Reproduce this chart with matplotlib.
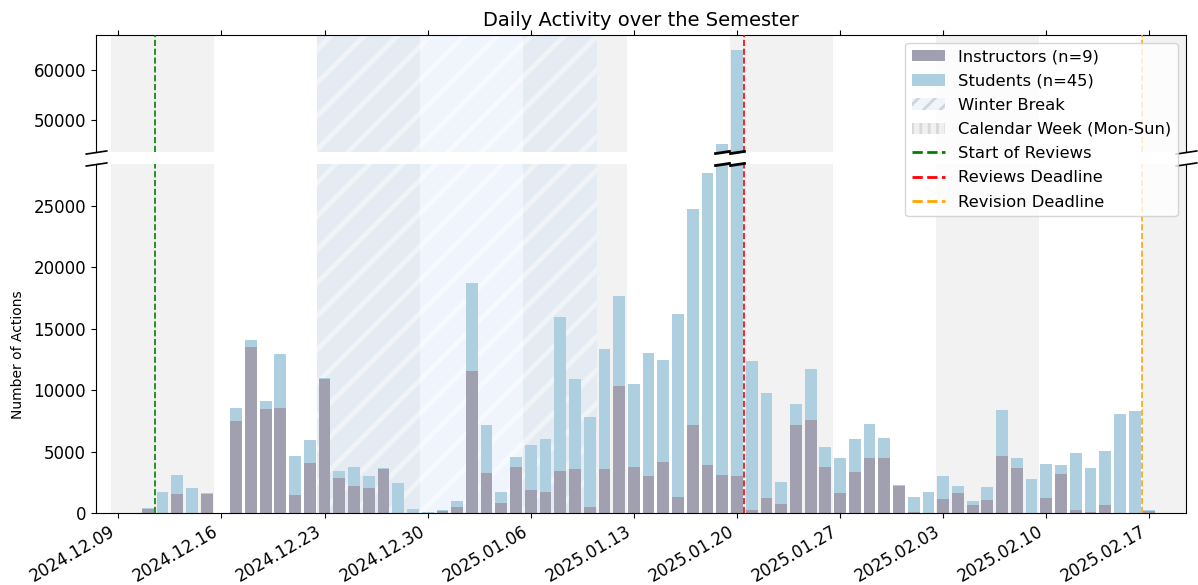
import numpy as np
import pandas as pd
import matplotlib
matplotlib.use("Agg")
import matplotlib.pyplot as plt
import matplotlib.dates as mdates
from matplotlib.patches import Patch
from matplotlib.lines import Line2D

# daily counts, 2024-12-09 .. 2025-02-17
dates = pd.date_range("2024-12-09", "2025-02-17", freq="D")

instructors = [0, 0, 330, 0, 1550, 0, 1550, 0, 7490, 13520, 8470, 8550, 1470, 4070,
               10910, 2850, 2200, 2040, 3580, 0, 0, 0, 160,
               490, 11560, 3260, 810, 3750, 1870, 1710, 3420, 3580, 490, 3580, 10340,
               3750, 3010, 4150, 1300, 7170, 3910, 3090, 3010, 240, 1220, 730, 7170,
               7570, 3750, 1630, 3340, 4480, 4480, 2200,
               80, 0, 1140, 1630, 650, 1060, 4640, 3660, 0, 1220, 3180, 240, 80, 650,
               0, 0, 160]

students = [0, 0, 70, 1710, 1545, 2040, 80, 0, 1060, 570, 650, 4400, 3170, 1880,
            80, 570, 1550, 970, 80, 2440, 330, 80, 80,
            490, 7170, 3910, 900, 810, 3670, 4320, 12540, 7330, 7330, 9780, 7330,
            6750, 10020, 8310, 14900, 17590, 23780, 42050, 60930, 12140, 8550, 1790,
            1710, 4160, 1630, 2850, 2690, 2770, 1630, 80,
            1220, 1710, 1870, 570, 330, 1060, 3750, 820, 2770, 2770, 730, 4650, 3580,
            4400, 8060, 8310, 80]

n_instructors = 9
n_students = 45

start_reviews = pd.Timestamp("2024-12-11 12:00")
reviews_deadline = pd.Timestamp("2025-01-20 12:00")
revision_deadline = pd.Timestamp("2025-02-16 12:00")
break_start = pd.Timestamp("2024-12-23")
break_end = pd.Timestamp("2025-01-10")

c_ins = "#a0a0b0"
c_stu = "#aecfdf"

plt.rcParams["hatch.linewidth"] = 3.5

fig = plt.figure(figsize=(11.98, 5.85), dpi=100)
ax1 = fig.add_axes([0.0801, 0.7402, 0.9098, 0.2005])
ax2 = fig.add_axes([0.0801, 0.1231, 0.9098, 0.5974])

x = mdates.date2num(dates)
tot = np.array(instructors) + np.array(students)
half = 0.5

mondays = pd.date_range("2024-12-09", "2025-02-17", freq="W-MON")

for ax in (ax1, ax2):
    # calendar weeks, every other one shaded
    for k, m in enumerate(mondays):
        if k % 2 == 0:
            m0 = mdates.date2num(m)
            ax.axvspan(m0 - half, m0 + 7 - half, color="gray", alpha=0.1, lw=0, zorder=0)
    # winter break
    b0 = mdates.date2num(break_start) - half
    b1 = mdates.date2num(break_end) + half
    ax.axvspan(b0, b1, facecolor=(0.71, 0.82, 0.96), alpha=0.2, lw=0, zorder=0.5)
    ax.axvspan(b0, b1, facecolor="none", edgecolor="white", hatch="/",
               alpha=0.45, lw=0, zorder=0.6)
    ax.bar(x, instructors, width=0.8, color=c_ins, zorder=2)
    ax.bar(x, students, width=0.8, bottom=instructors, color=c_stu, zorder=2)
    ax.axvline(start_reviews, color="green", ls="--", lw=1.2, zorder=3)
    ax.axvline(reviews_deadline, color="red", ls="--", lw=1.2, zorder=3)
    ax.axvline(revision_deadline, color="orange", ls="--", lw=1.2, zorder=3)
    ax.set_xlim(mdates.date2num(pd.Timestamp("2024-12-07 11:30")),
                mdates.date2num(pd.Timestamp("2025-02-19 11:30")))
    ax.xaxis.set_major_locator(mdates.WeekdayLocator(byweekday=mdates.MO))
    ax.xaxis.set_major_formatter(mdates.DateFormatter("%Y.%m.%d"))
    ax.tick_params(labelsize=12)

ax1.set_ylim(43540, 67000)
ax2.set_ylim(0, 28460)
ax1.set_yticks([50000, 60000])
ax2.set_yticks([0, 5000, 10000, 15000, 20000, 25000])

ax1.spines["bottom"].set_visible(False)
ax2.spines["top"].set_visible(False)
ax1.xaxis.tick_top()
ax1.tick_params(labeltop=False)
ax2.xaxis.tick_bottom()
plt.setp(ax2.get_xticklabels(), rotation=30, ha="right")

# break marks on the axis
d = 0.15
kw = dict(marker=[(-1, -d), (1, d)], markersize=16, linestyle="none",
          color="k", mec="k", mew=1.2, clip_on=False)
ax1.plot([0, 1], [0, 0], transform=ax1.transAxes, **kw)
ax2.plot([0, 1], [1, 1], transform=ax2.transAxes, **kw)

# break marks on bars that go past the lower panel
lim2 = ax2.get_ylim()[1]
big = x[tot > lim2]
kwb = dict(marker=[(-1, -d), (1, d)], markersize=12, linestyle="none",
           color="k", mec="k", mew=2, clip_on=False, zorder=5)
ax1.plot(big, np.zeros(len(big)), transform=ax1.get_xaxis_transform(), **kwb)
ax2.plot(big, np.ones(len(big)), transform=ax2.get_xaxis_transform(), **kwb)

ax1.set_title("Daily Activity over the Semester", fontsize=14)
fig.text(0.015, 0.393, "Number of Actions", rotation=90, va="center", ha="center", fontsize=10)

plt.rcParams["hatch.linewidth"] = 2.0
handles = [
    Patch(facecolor=c_ins, label=f"Instructors (n={n_instructors})"),
    Patch(facecolor=c_stu, label=f"Students (n={n_students})"),
    Patch(facecolor="#eef5fc", edgecolor="#d0d4da", hatch="//", lw=0, label="Winter Break"),
    Patch(facecolor="#f0f0f0", edgecolor="#d8d8d8", hatch="||", lw=0, label="Calendar Week (Mon-Sun)"),
    Line2D([0], [0], color="green", ls="--", lw=2, label="Start of Reviews"),
    Line2D([0], [0], color="red", ls="--", lw=2, label="Reviews Deadline"),
    Line2D([0], [0], color="orange", ls="--", lw=2, label="Revision Deadline"),
]
ax1.set_zorder(ax2.get_zorder() + 1)
ax1.legend(handles=handles, loc="upper right", fontsize=11.8, labelspacing=0.56)

fig.savefig("out.png", dpi=100)
